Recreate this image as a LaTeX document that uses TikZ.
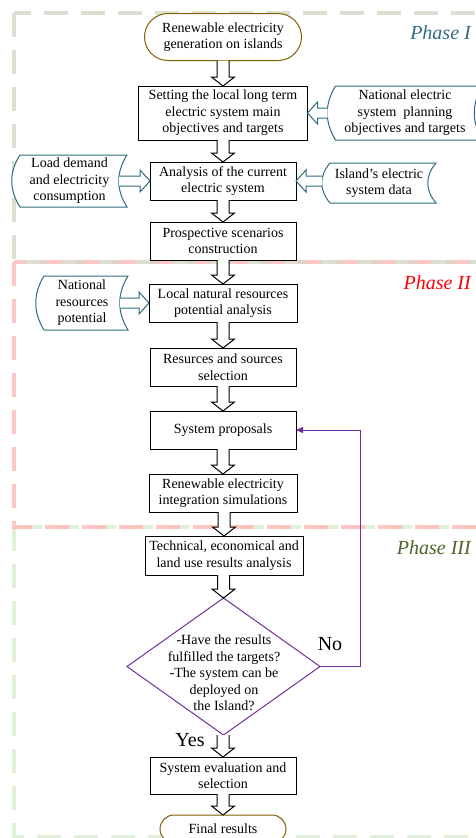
\documentclass[tikz,border=0pt]{standalone}
\usepackage{fontspec}
\setmainfont{Liberation Serif}
\usetikzlibrary{calc,shapes.geometric,arrows.meta}
\definecolor{phaseIc}{RGB}{214,214,200}
\definecolor{phaseIIc}{RGB}{255,188,188}
\definecolor{phaseIIIc}{RGB}{226,239,217}
\definecolor{tealc}{RGB}{49,107,128}
\definecolor{brownc}{RGB}{128,96,0}
\definecolor{purplec}{RGB}{112,48,160}
\definecolor{oliveg}{RGB}{79,98,40}
\pgfdeclarelayer{back}
\pgfdeclarelayer{mid}
\pgfsetlayers{back,mid,main}
\tikzset{
  txt/.style={align=center, inner sep=0pt, outer sep=0pt, font=\fontsize{14}{16.5}\selectfont},
  box/.style={txt, draw=black, line width=1pt, fill=white, minimum height=38pt},
  term/.style={box, draw=brownc},
  datan/.style={txt},
  datad/.style={draw=tealc, line width=1pt, fill=white},
  barrow/.style={draw=black, line width=1pt, fill=white, line join=miter},
  tarrow/.style={draw=tealc, line width=1pt, fill=white, line join=miter},
  phase/.style={line width=3.3pt, dash pattern=on 24pt off 13pt},
  phl/.style={inner sep=0pt, anchor=east, font=\fontsize{20}{24}\selectfont\itshape},
  yn/.style={inner sep=0pt, font=\fontsize{20}{24}\selectfont},
}
\newcommand\dataoutline[2]{%
  \draw[datad] ($(#1.north west)+(4,0)$) .. controls +(-11,#2) and +(-11,-#2) .. ($(#1.south west)+(4,0)$)
    -- ($(#1.south east)+(4,0)$) .. controls +(-11,-#2) and +(-11,#2) .. ($(#1.north east)+(4,0)$) -- cycle;}
\newcommand\varrow[2]{%
  \draw[barrow] let \p1=(#1), \p2=(#2) in
    (\x2-6pt,\y1) -- (\x2-6pt,\y2+9pt) -- (\x2-11.5pt,\y2+9pt) -- (\x2,\y2)
    -- (\x2+11.5pt,\y2+9pt) -- (\x2+6pt,\y2+9pt) -- (\x2+6pt,\y1);}
\newcommand\rarrow[2]{%
  \draw[tarrow] let \p1=(#1), \p2=(#2) in
    (\x1,\y2+5pt) -- (\x2-10pt,\y2+5pt) -- (\x2-10pt,\y2+11pt) -- (\x2,\y2)
    -- (\x2-10pt,\y2-11pt) -- (\x2-10pt,\y2-5pt) -- (\x1,\y2-5pt);}
\newcommand\larrow[2]{%
  \draw[tarrow] let \p1=(#1), \p2=(#2) in
    (\x1,\y2+5pt) -- (\x2+10pt,\y2+5pt) -- (\x2+10pt,\y2+11pt) -- (\x2,\y2)
    -- (\x2+10pt,\y2-11pt) -- (\x2+10pt,\y2-5pt) -- (\x1,\y2-5pt);}
\begin{document}
\begin{tikzpicture}[x=1pt,y=-1pt]
\useasboundingbox (0,0) rectangle (475,838);
\begin{pgfonlayer}{back}
  \draw[phase, draw=phaseIIIc] (14,527) rectangle (495,837);
  \draw[phase, draw=phaseIIc, draw opacity=0.85] (14,262) rectangle (495,527);
  \draw[phase, draw=phaseIc, draw opacity=0.8] (14,13) rectangle (495,262);
\end{pgfonlayer}

% phase labels
\node[phl, text=tealc] (p1) at (471,33) {Phase I};
\node[phl, text=red] (p2) at (471,283) {Phase II};
\node[phl, text=oliveg] (p3) at (471,548) {Phase III};

% main column
\node[term, minimum width=157pt, minimum height=47pt, rounded corners=23.5pt] (start) at (223,37) {Renewable electricity\\generation on islands};
\node[box, minimum width=169pt, minimum height=54pt] (b1) at (223,113) {Setting the local long term\\electric system main\\objectives and targets};
\node[box, minimum width=146pt] (b2) at (223,181) {Analysis of the current\\electric system};
\node[box, minimum width=146pt] (b3) at (223,241) {Prospective scenarios\\construction};
\node[box, minimum width=148pt] (b4) at (223,303) {Local natural resources\\potential analysis};
\node[box, minimum width=146pt] (b5) at (223,367) {Resurces and sources\\selection};
\node[box, minimum width=146pt] (b6) at (223,430) {System proposals};
\node[box, minimum width=148pt] (b7) at (223,493) {Renewable electricity\\integration simulations};
\node[box, minimum width=158pt, minimum height=39pt] (b8) at (224,555.5) {Technical, economical and\\land use results analysis};
\node[diamond, draw=purplec, line width=1pt, fill=white, minimum width=193pt, minimum height=137pt, inner sep=0pt, outer sep=0pt] (dia) at (223.5,666.5) {};
\node[txt] (diat) at (224,673) {-Have the results\\fulfilled the targets?\\-The system can be\\deployed on\\the Island?};
\node[box, minimum width=146pt, minimum height=37pt] (b9) at (223,775.5) {System evaluation and\\selection};
\node[term, minimum width=126pt, minimum height=28pt, rounded corners=14pt] (final) at (223,829) {Final results};

% data inputs
\node[datan, minimum width=147pt, minimum height=54pt] (nat) at (405,113) {National electric\\system~~planning\\objectives and targets};
\node[datan, minimum width=107pt, minimum height=52pt] (load) at (69.5,181) {Load demand\\and electricity\\consumption};
\node[datan, minimum width=106pt, minimum height=40pt] (isl) at (379,183) {Island's electric\\system data};
\node[datan, minimum width=84pt, minimum height=54pt] (natres) at (82,303) {National\\resources\\potential};
\begin{pgfonlayer}{mid}
  \dataoutline{nat}{18}
  \dataoutline{load}{17}
  \dataoutline{isl}{13}
  \dataoutline{natres}{18}
\end{pgfonlayer}

% block arrows
\varrow{start.south}{b1.north}
\varrow{b1.south}{b2.north}
\varrow{b2.south}{b3.north}
\varrow{b3.south}{b4.north}
\varrow{b4.south}{b5.north}
\varrow{b5.south}{b6.north}
\varrow{b6.south}{b7.north}
\varrow{b7.south}{b8.north}
\varrow{b8.south}{dia.north}
\varrow{dia.south}{b9.north}
\varrow{b9.south}{final.north}

\larrow{$(nat.west)+(-4,0)$}{b1.east}
\rarrow{$(load.east)+(-4,0)$}{b2.west}
\larrow{$(isl.west)+(-4,0)$}{b2.east}
\rarrow{$(natres.east)+(-4,0)$}{b4.west}

% feedback loop
\draw[purplec, line width=1pt, -{Triangle[length=7pt,width=6pt]}] (dia.east) -- ++(40,0) |- (b6.east);
\node[yn] (no) at (330,644) {No};
\node[yn] (yes) at (190,740) {Yes};
\end{tikzpicture}
\end{document}
